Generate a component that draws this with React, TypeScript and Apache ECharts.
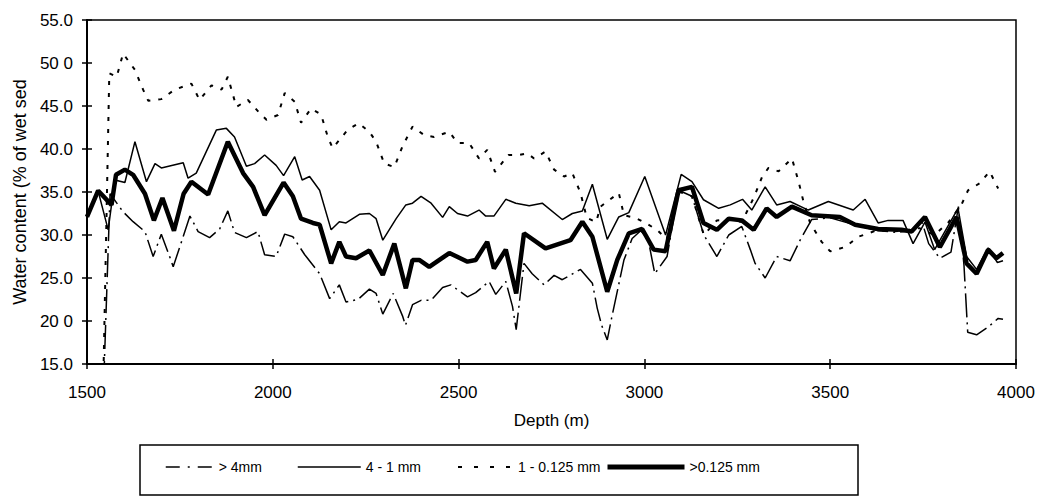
import React, { useEffect, useRef } from "react";
import * as echarts from "echarts";

// ---- Data (depth in m, water content in % of wet sediment) ----
const depthFine = [1500, 1530, 1566, 1578, 1602, 1624, 1656, 1680, 1703, 1734, 1760, 1781, 1826, 1879, 1920, 1947, 1978, 2029, 2054, 2076, 2108, 2126, 2157, 2179, 2197, 2224, 2260, 2296, 2327, 2358, 2376, 2394, 2421, 2475, 2524, 2546, 2577, 2595, 2627, 2655, 2676, 2734, 2801, 2833, 2860, 2900, 2927, 2958, 2994, 3025, 3057, 3092, 3128, 3159, 3195, 3227, 3262, 3294, 3329, 3356, 3397, 3450, 3526, 3567, 3629, 3692, 3719, 3755, 3795, 3840, 3867, 3894, 3925, 3947, 3965];
const valueFine = [32.1, 35.15, 33.5, 37.0, 37.6, 37.0, 34.8, 31.7, 34.3, 30.5, 34.8, 36.2, 34.7, 40.85, 37.2, 35.6, 32.3, 36.1, 34.5, 31.9, 31.4, 31.2, 26.7, 29.2, 27.5, 27.3, 28.2, 25.35, 29.0, 23.8, 27.1, 27.1, 26.3, 27.9, 26.9, 27.1, 29.2, 26.1, 28.3, 23.2, 30.2, 28.45, 29.4, 31.55, 29.8, 23.4, 27.1, 30.2, 30.7, 28.3, 28.1, 35.2, 35.6, 31.4, 30.6, 31.9, 31.7, 30.6, 33.1, 32.1, 33.3, 32.3, 32.1, 31.2, 30.7, 30.6, 30.4, 32.1, 28.6, 32.1, 26.7, 25.5, 28.3, 27.3, 27.9];

const depthMid = [1500, 1530, 1557, 1575, 1602, 1629, 1660, 1683, 1700, 1759, 1772, 1794, 1848, 1875, 1897, 1929, 1951, 1978, 2009, 2029, 2059, 2079, 2099, 2126, 2157, 2179, 2197, 2233, 2260, 2278, 2296, 2332, 2358, 2376, 2399, 2426, 2457, 2475, 2497, 2524, 2555, 2573, 2595, 2627, 2654, 2690, 2725, 2779, 2806, 2833, 2860, 2900, 2931, 2958, 3001, 3057, 3099, 3128, 3159, 3200, 3231, 3264, 3289, 3325, 3356, 3392, 3441, 3495, 3562, 3594, 3629, 3656, 3696, 3723, 3755, 3781, 3810, 3844, 3867, 3894, 3925, 3950, 3965];
const valueMid = [32.1, 35.1, 30.6, 36.4, 36.1, 40.85, 36.2, 38.3, 37.8, 38.4, 36.6, 37.2, 42.2, 42.4, 41.4, 38.0, 38.3, 39.3, 38.1, 36.9, 39.1, 36.4, 36.8, 35.2, 30.6, 31.55, 31.4, 32.4, 32.5, 31.9, 29.4, 31.9, 33.5, 33.7, 34.5, 33.7, 32.05, 33.3, 32.5, 32.2, 32.9, 32.2, 32.2, 34.15, 33.7, 33.4, 33.7, 31.8, 32.5, 32.8, 35.9, 29.5, 32.1, 32.6, 36.8, 30.0, 37.05, 36.2, 34.1, 33.1, 33.5, 34.15, 32.9, 35.6, 33.5, 33.9, 32.9, 33.9, 32.9, 34.15, 31.4, 31.7, 31.7, 29.0, 31.5, 28.3, 30.5, 33.1, 27.5, 26.0, 28.5, 26.8, 27.0];

const depthCoarse = [1535, 1562, 1597, 1624, 1656, 1678, 1700, 1724, 1732, 1777, 1799, 1830, 1857, 1879, 1897, 1929, 1960, 1978, 2009, 2032, 2054, 2086, 2126, 2153, 2179, 2197, 2229, 2260, 2278, 2296, 2324, 2349, 2357, 2376, 2399, 2426, 2457, 2479, 2524, 2546, 2582, 2600, 2627, 2645, 2655, 2676, 2698, 2730, 2757, 2779, 2828, 2860, 2873, 2885, 2900, 2913, 2945, 2967, 2990, 3010, 3028, 3061, 3092, 3128, 3160, 3195, 3227, 3262, 3285, 3298, 3325, 3356, 3392, 3419, 3450, 3500, 3540, 3580, 3630, 3680, 3720, 3745, 3765, 3795, 3825, 3845, 3860, 3870, 3894, 3925, 3952, 3965];
const valueCoarse = [0, 34.8, 32.7, 31.55, 30.4, 27.5, 30.1, 27.3, 26.3, 32.2, 30.4, 29.7, 30.7, 32.8, 30.3, 29.7, 30.4, 27.7, 27.5, 30.1, 29.8, 27.7, 25.5, 22.6, 24.2, 22.2, 22.5, 23.7, 23.2, 20.8, 23.2, 20.6, 19.5, 21.9, 22.4, 22.4, 23.9, 24.2, 22.8, 23.3, 24.6, 23.1, 24.6, 21.7, 19.0, 26.7, 25.5, 24.2, 25.3, 24.8, 26.0, 24.4, 21.5, 19.5, 17.8, 20.6, 27.1, 29.6, 30.5, 29.5, 25.5, 27.5, 35.2, 34.5, 30.0, 27.5, 30.0, 31.0, 28.3, 26.7, 25.0, 27.5, 27.0, 29.4, 31.8, 32.0, 31.5, 31.0, 30.5, 30.3, 30.5, 31.8, 29.0, 27.3, 28.0, 33.3, 26.5, 18.7, 18.4, 19.3, 20.3, 20.2];

const depthSand = [1538, 1560, 1580, 1597, 1629, 1651, 1665, 1700, 1736, 1781, 1803, 1835, 1862, 1879, 1902, 1933, 1965, 1983, 2014, 2032, 2059, 2076, 2103, 2130, 2148, 2161, 2201, 2231, 2260, 2278, 2300, 2327, 2349, 2376, 2408, 2434, 2475, 2497, 2528, 2555, 2577, 2598, 2634, 2663, 2685, 2703, 2734, 2757, 2784, 2806, 2828, 2845, 2870, 2882, 2931, 2945, 2975, 3003, 3034, 3060, 3095, 3128, 3160, 3195, 3230, 3262, 3295, 3317, 3334, 3361, 3397, 3415, 3428, 3446, 3477, 3500, 3540, 3576, 3629, 3661, 3700, 3740, 3780, 3817, 3853, 3871, 3902, 3929, 3952];
const valueSand = [0, 48.8, 48.4, 51.1, 49.2, 46.9, 45.6, 45.8, 46.9, 47.6, 45.7, 47.4, 46.9, 48.4, 44.9, 45.7, 44.15, 43.4, 43.95, 46.5, 45.5, 43.05, 44.7, 44.0, 41.4, 40.1, 42.2, 43.0, 42.0, 40.85, 38.3, 37.9, 40.3, 42.6, 41.6, 41.4, 42.0, 40.7, 40.7, 38.9, 39.9, 37.35, 39.3, 39.3, 39.5, 38.9, 39.7, 37.6, 36.8, 37.2, 34.9, 32.0, 31.5, 33.3, 34.9, 32.3, 32.0, 31.4, 30.6, 29.5, 35.0, 34.5, 30.0, 31.7, 31.8, 31.5, 34.4, 36.8, 37.8, 37.4, 38.9, 36.2, 33.9, 31.4, 29.2, 28.1, 28.6, 29.8, 30.6, 30.4, 30.5, 30.8, 30.0, 31.4, 33.5, 35.2, 36.0, 37.4, 35.4];

const yTickLabels = ["15.0", "20 0", "25.0", "30.0", "35.0", "40.0", "45.0", "50 0", "55.0"];
const seriesNames = ["> 4mm", "4 - 1 mm", "1 - 0.125 mm", ">0.125 mm"];

const FONT = "'Liberation Sans', Arial, Helvetica, sans-serif";

function zip(xs: number[], ys: number[]) {
  return xs.map((x, i) => [x, ys[i]]);
}

export default function App() {
  const ref = useRef<HTMLDivElement>(null);

  useEffect(() => {
    if (!ref.current) return;
    const chart = echarts.init(ref.current, null, { renderer: "svg" });

    const coarseDash = [24, 5, 2, 5];
    const sandDash = [4, 8];

    const lineSeries = (name: string, data: number[][], width: number, type: any, z: number) => ({
      name,
      type: "line",
      data,
      symbol: "none",
      showSymbol: false,
      clip: true,
      z,
      lineStyle: { color: "#000", width, type },
      itemStyle: { color: "#000" },
      emphasis: { disabled: true },
    });

    const legendCommon = {
      top: 460,
      itemHeight: 14,
      padding: 0,
      itemGap: 0,
      textStyle: { fontFamily: FONT, fontSize: 14, color: "#000" },
      itemStyle: { color: "transparent", borderColor: "transparent", borderWidth: 0, opacity: 0 },
      selectedMode: false,
    };

    chart.setOption({
      animation: false,
      backgroundColor: "#fff",
      grid: {
        left: 87,
        top: 20,
        right: 24,
        bottom: 136,
        show: true,
        borderColor: "#000",
        borderWidth: 1.5,
        backgroundColor: "transparent",
      },
      xAxis: [
        {
          type: "value",
          min: 1500,
          max: 4000,
          interval: 500,
          name: "Depth (m)",
          nameLocation: "middle",
          nameGap: 48,
          nameTextStyle: { fontFamily: FONT, fontSize: 17, color: "#000" },
          axisLine: { show: true, onZero: false, lineStyle: { color: "#000", width: 2 } },
          axisTick: { show: true, inside: false, length: 5, lineStyle: { color: "#000", width: 1.5 } },
          axisLabel: {
            fontFamily: FONT,
            fontSize: 17,
            color: "#000",
            margin: 20,
            formatter: (v: number) => String(v),
          },
          splitLine: { show: false },
        },
        {
          type: "value",
          min: 1500,
          max: 4000,
          interval: 500,
          position: "bottom",
          axisLine: { show: false },
          axisTick: { show: true, inside: true, length: 5, lineStyle: { color: "#000", width: 1.5 } },
          axisLabel: { show: false },
          splitLine: { show: false },
        },
      ],
      yAxis: [
        {
          type: "value",
          min: 15,
          max: 55,
          interval: 5,
          name: "Water content (% of wet sed",
          nameLocation: "middle",
          nameGap: 52,
          nameTextStyle: { fontFamily: FONT, fontSize: 18, color: "#000" },
          axisLine: { show: true, onZero: false, lineStyle: { color: "#000", width: 2 } },
          axisTick: { show: true, inside: false, length: 5, lineStyle: { color: "#000", width: 1.5 } },
          axisLabel: {
            fontFamily: FONT,
            fontSize: 17,
            color: "#000",
            margin: 14,
            formatter: (v: number) => yTickLabels[Math.round((v - 15) / 5)] ?? "",
          },
          splitLine: { show: false },
        },
        {
          type: "value",
          min: 15,
          max: 55,
          interval: 5,
          position: "left",
          axisLine: { show: false },
          axisTick: { show: true, inside: true, length: 5, lineStyle: { color: "#000", width: 1.5 } },
          axisLabel: { show: false },
          splitLine: { show: false },
        },
      ],
      legend: [
        { ...legendCommon, left: 165, itemWidth: 48, lineStyle: { width: 1.5, type: [14, 8, 2, 8] }, data: [seriesNames[0]] },
        { ...legendCommon, left: 297, itemWidth: 63, lineStyle: { width: 1.5, type: "solid" }, data: [seriesNames[1]] },
        { ...legendCommon, left: 457, itemWidth: 55, lineStyle: { width: 2, type: [4, 12] }, data: [seriesNames[2]] },
        { ...legendCommon, left: 605, itemWidth: 77, lineStyle: { width: 5, type: "solid" }, data: [seriesNames[3]] },
      ],
      graphic: [
        {
          type: "rect",
          shape: { x: 140, y: 445, width: 718, height: 50 },
          style: { fill: "none", stroke: "#000", lineWidth: 1.5 },
          silent: true,
        },
      ],
      series: [
        lineSeries(seriesNames[0], zip(depthCoarse, valueCoarse), 1.5, coarseDash, 3),
        lineSeries(seriesNames[1], zip(depthMid, valueMid), 1.5, "solid", 4),
        lineSeries(seriesNames[2], zip(depthSand, valueSand), 2, sandDash, 2),
        lineSeries(seriesNames[3], zip(depthFine, valueFine), 4.5, "solid", 5),
      ],
    });

    return () => chart.dispose();
  }, []);

  return (
    <div
      ref={ref}
      style={{ position: "absolute", left: 0, top: 0, width: 1040, height: 500, background: "#fff" }}
    />
  );
}
